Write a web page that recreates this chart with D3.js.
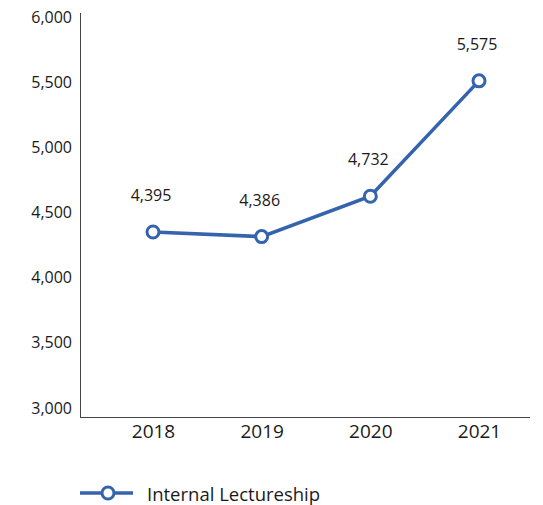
<!DOCTYPE html>
<html><head><meta charset="utf-8">
<script src="https://cdn.jsdelivr.net/npm/d3@7"></script>
<style>body{margin:0;background:#fff}svg{display:block}text{font-family:"Open Sans",sans-serif;fill:#1a1a1a}</style>
</head><body>
<script>
const years = ["2018","2019","2020","2021"];
const values = [4350, 4315, 4625, 5510];
const dataLabels = ["4,395","4,386","4,732","5,575"];
const yTicks = [3000,3500,4000,4500,5000,5500,6000];
const seriesName = "Internal Lectureship";

const W=543,H=505, color="#3563ae";
const svg=d3.select("body").append("svg").attr("width",W).attr("height",H);
const x=d3.scalePoint().domain(years).range([153,479]);
const y=d3.scaleLinear().domain([3000,6000]).range([408,17]);

svg.append("line").attr("x1",80.5).attr("x2",80.5).attr("y1",13).attr("y2",417.5).attr("stroke","#444").attr("stroke-width",1);
svg.append("line").attr("x1",80).attr("x2",530).attr("y1",417.5).attr("y2",417.5).attr("stroke","#444").attr("stroke-width",1);

const ya=svg.append("g").attr("transform","translate(72,0)").call(d3.axisLeft(y).tickValues(yTicks).tickSize(0).tickPadding(0).tickFormat(d3.format(",")));
ya.select(".domain").remove();
ya.selectAll("text").style("font-size","16px").attr("fill","#1a1a1a");

const xa=svg.append("g").attr("transform","translate(0,424)").call(d3.axisBottom(x).tickSize(0).tickPadding(0));
xa.select(".domain").remove();
xa.selectAll("text").style("font-size","19px").attr("fill","#1a1a1a");

const pts=years.map((d,i)=>({year:d,v:values[i],label:dataLabels[i]}));
svg.append("path").datum(pts).attr("fill","none").attr("stroke",color).attr("stroke-width",3.5)
  .attr("d",d3.line().x(d=>x(d.year)).y(d=>y(d.v)));
svg.selectAll("circle.pt").data(pts).join("circle").attr("class","pt")
  .attr("cx",d=>x(d.year)).attr("cy",d=>y(d.v)).attr("r",6).attr("fill","#fff").attr("stroke",color).attr("stroke-width",3);
svg.selectAll("text.lbl").data(pts).join("text").attr("class","lbl")
  .attr("x",d=>x(d.year)-2).attr("y",d=>y(d.v)-31).attr("text-anchor","middle").style("font-size","16px").text(d=>d.label);

svg.append("line").attr("x1",80).attr("x2",133).attr("y1",493).attr("y2",493).attr("stroke",color).attr("stroke-width",3.5);
svg.append("circle").attr("cx",108).attr("cy",493).attr("r",6).attr("fill","#fff").attr("stroke",color).attr("stroke-width",3);
svg.append("text").attr("x",147).attr("y",501).style("font-size","18.5px").text(seriesName);
</script>
</body></html>
